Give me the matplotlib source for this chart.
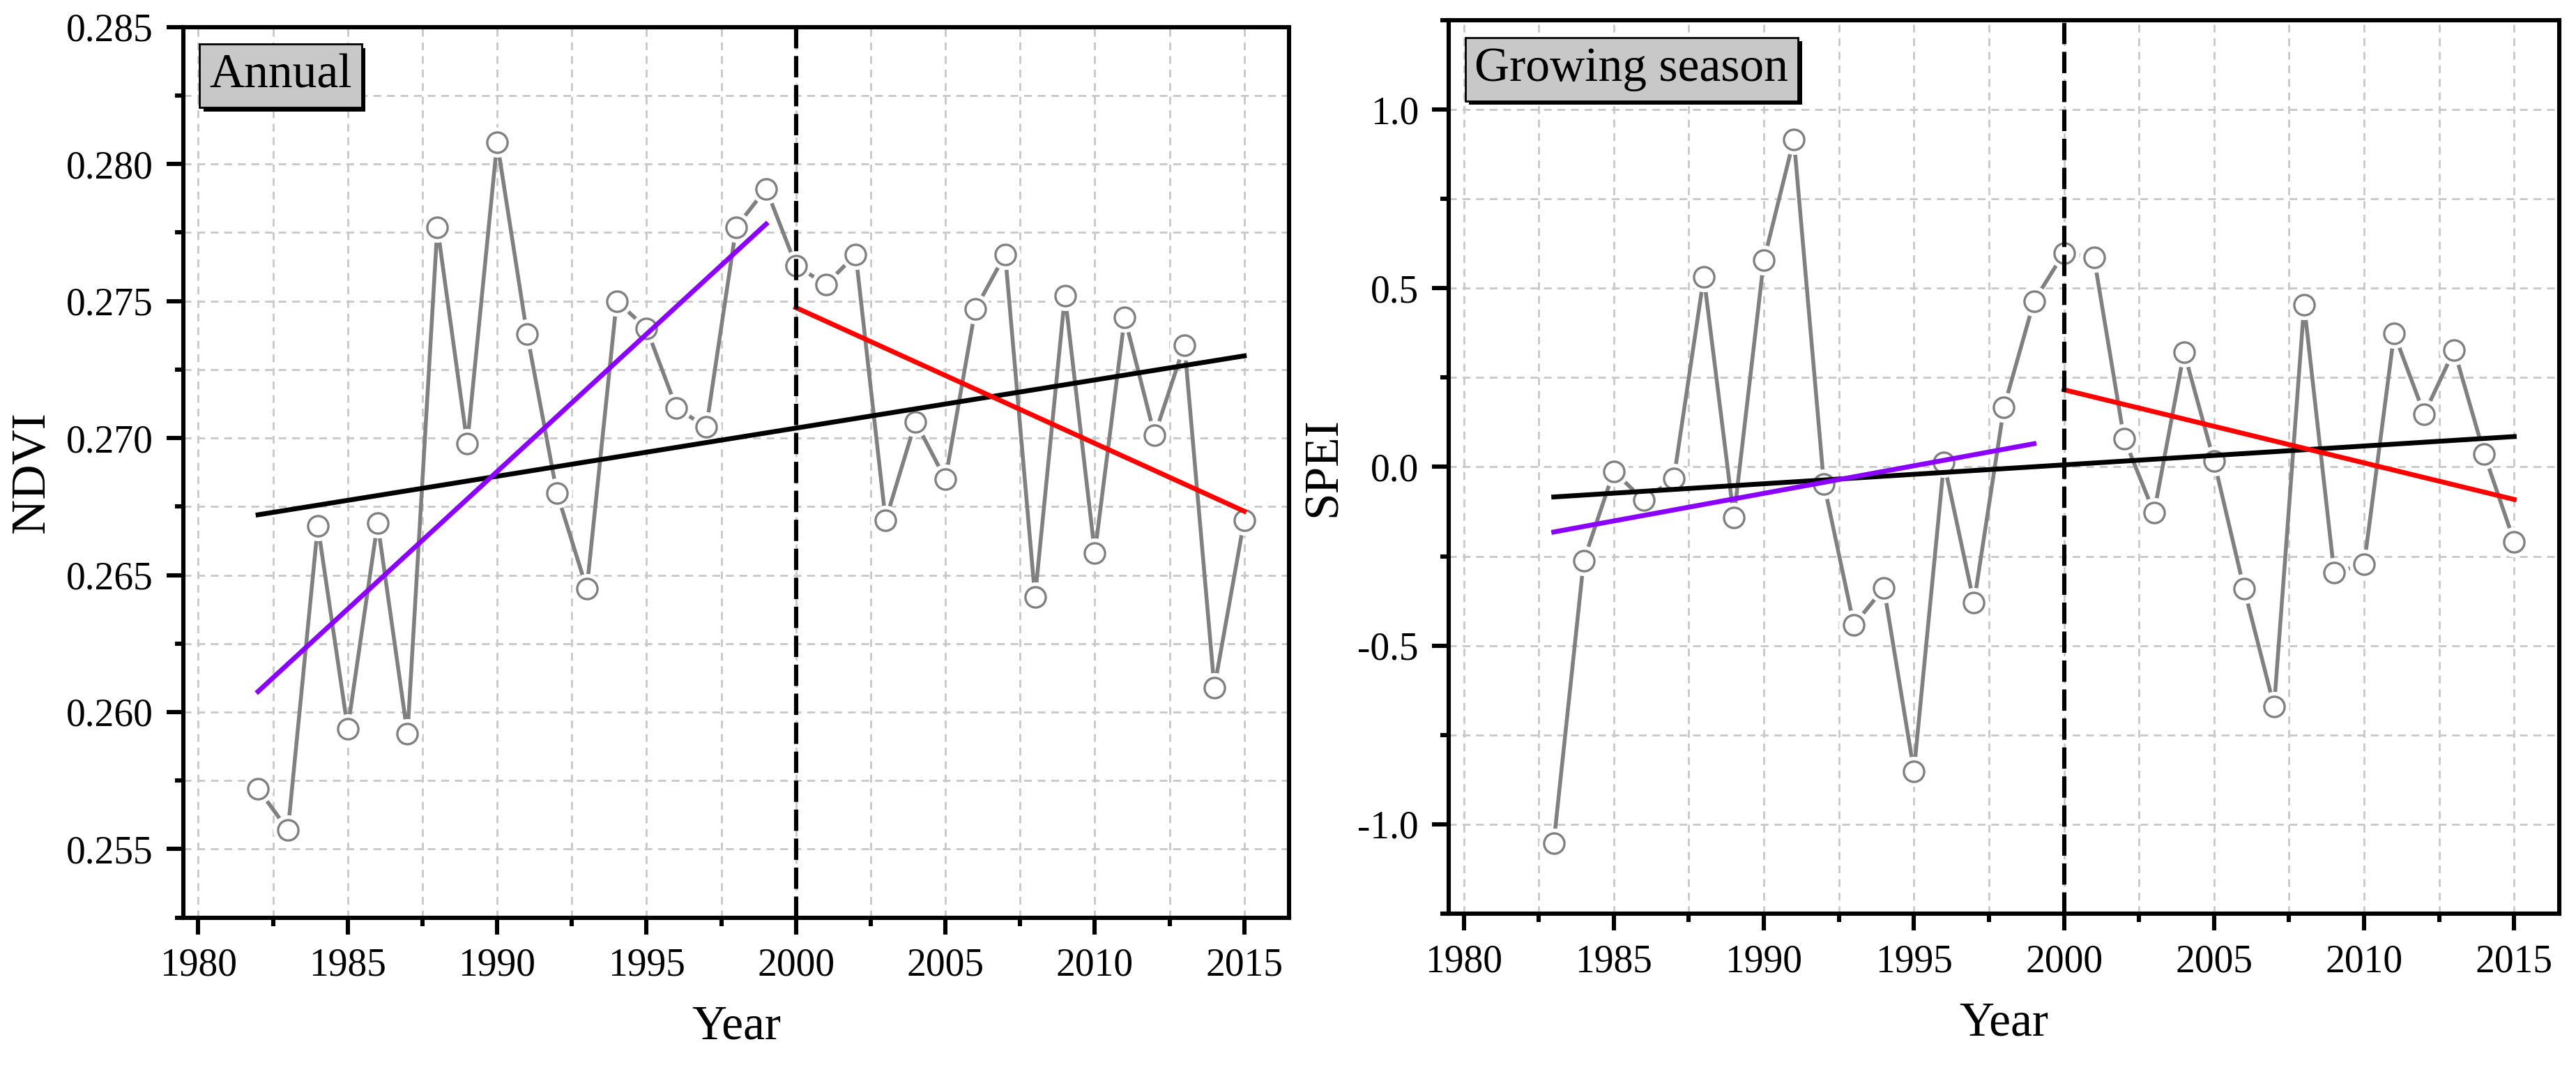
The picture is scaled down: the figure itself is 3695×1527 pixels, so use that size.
import matplotlib
matplotlib.use('Agg')
import matplotlib.pyplot as plt
import matplotlib.patheffects as pe
from matplotlib.ticker import MultipleLocator, FormatStrFormatter

plt.rcParams['font.family'] = ['Liberation Serif', 'DejaVu Serif']

# annual NDVI
ndvi_years = list(range(1982, 2016))
ndvi = [0.2572, 0.2557, 0.2668, 0.2594, 0.2669, 0.2592, 0.2777, 0.2698, 0.2808, 0.2738,
        0.2680, 0.2645, 0.2750, 0.2740, 0.2711, 0.2704, 0.2777, 0.2791, 0.2763, 0.2756,
        0.2767, 0.2670, 0.2706, 0.2685, 0.2747, 0.2767, 0.2642, 0.2752, 0.2658, 0.2744,
        0.2701, 0.2734, 0.2609, 0.2670]
# trend lines: [start year, end year], [start value, end value]
ndvi_trend_all = ([1982, 2015], [0.2672, 0.2730])
ndvi_trend_pre = ([1982, 1999], [0.26075, 0.27781])
ndvi_trend_post = ([2000, 2015], [0.27476, 0.26733])

# growing season SPEI
spei_years = list(range(1983, 2016))
spei = [-1.052, -0.262, -0.012, -0.093, -0.033, 0.532, -0.142, 0.578, 0.917, -0.047,
        -0.442, -0.339, -0.851, 0.012, -0.380, 0.167, 0.464, 0.599, 0.586, 0.080,
        -0.128, 0.321, 0.016, -0.341, -0.670, 0.453, -0.295, -0.273, 0.373, 0.148,
        0.327, 0.036, -0.209]
spei_trend_all = ([1983, 2015], [-0.084, 0.085])
spei_trend_pre = ([1983, 1999], [-0.182, 0.065])
spei_trend_post = ([2000, 2015], [0.216, -0.091])

break_year = 2000


def panel(ax, years, vals, trends, ylim, ymaj, ymin, yfmt, ylabel, tag, tag_pos):
    ax.plot(years, vals, color='#808080', lw=2, zorder=3)
    # white ring so the line stops short of each symbol
    ax.plot(years, vals, ls='none', marker='o', ms=14.5, mfc='white', mec='white', zorder=4)
    ax.plot(years, vals, ls='none', marker='o', ms=10.5, mfc='white', mec='#808080', mew=1.2, zorder=5)

    t_all, t_pre, t_post = trends
    ax.plot(t_all[0], t_all[1], color='black', lw=2.5, zorder=6)
    ax.plot(t_pre[0], t_pre[1], color='#8b00ff', lw=2.5, zorder=6)
    ax.plot(t_post[0], t_post[1], color='#ff0000', lw=2.5, zorder=6)
    ax.axvline(break_year, color='black', lw=2.2, ls=(0, (5, 1.8)), zorder=7)

    ax.set_xlim(1979.5, 2016.5)
    ax.set_ylim(*ylim)
    ax.xaxis.set_major_locator(MultipleLocator(5))
    ax.xaxis.set_minor_locator(MultipleLocator(2.5))
    ax.yaxis.set_major_locator(MultipleLocator(ymaj))
    ax.yaxis.set_minor_locator(MultipleLocator(ymin))
    ax.yaxis.set_major_formatter(FormatStrFormatter(yfmt))
    ax.grid(which='both', color='#c8c8c8', ls=(0, (4, 3)), lw=1, zorder=0)
    ax.set_axisbelow(True)

    ax.tick_params(which='major', direction='out', length=8.5, width=2.2, labelsize=20, pad=7)
    ax.tick_params(which='minor', direction='out', length=4.3, width=2.2)
    for s in ax.spines.values():
        s.set_linewidth(2.2)

    ax.set_xlabel('Year', fontsize=25, labelpad=11)
    ax.set_ylabel(ylabel, fontsize=25, labelpad=6)

    t = ax.text(tag_pos[0], tag_pos[1], tag, transform=ax.transAxes, ha='left', va='top',
                fontsize=25, zorder=10,
                bbox=dict(boxstyle='square,pad=0.2', fc='#c8c8c8', ec='black', lw=1))
    t.get_bbox_patch().set_path_effects(
        [pe.withSimplePatchShadow(offset=(2, -2), shadow_rgbFace='black', alpha=1)])


fig = plt.figure(figsize=(3695 / 200, 1527 / 200), dpi=200)
ax1 = fig.add_axes([0.07118, 0.13844, 0.42923, 0.83615])
ax2 = fig.add_axes([0.56238, 0.14211, 0.43112, 0.83890])

panel(ax1, ndvi_years, ndvi, (ndvi_trend_all, ndvi_trend_pre, ndvi_trend_post),
      (0.2525, 0.285), 0.005, 0.0025, '%.3f', 'NDVI', 'Annual', (0.0235, 0.970))
panel(ax2, spei_years, spei, (spei_trend_all, spei_trend_pre, spei_trend_post),
      (-1.25, 1.25), 0.5, 0.25, '%.1f', 'SPEI', 'Growing season', (0.0235, 0.970))

fig.savefig('out.png', dpi=200)
